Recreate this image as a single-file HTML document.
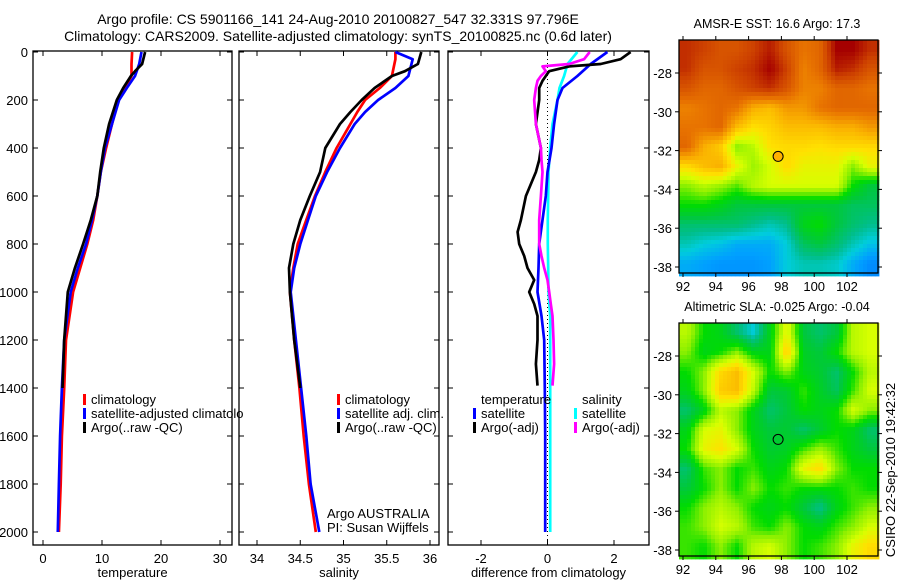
<!DOCTYPE html>
<html><head><meta charset="utf-8"><style>
body{margin:0;background:#fff;}
svg{display:block;font-family:"Liberation Sans",sans-serif;}
</style></head><body>
<svg id="fig" width="900" height="580" viewBox="0 0 900 580" xmlns="http://www.w3.org/2000/svg">
<text x="338" y="24" font-size="14" text-anchor="middle">Argo profile: CS 5901166_141 24-Aug-2010 20100827_547 32.331S 97.796E</text>
<text x="338" y="41" font-size="14" text-anchor="middle">Climatology: CARS2009. Satellite-adjusted climatology: synTS_20100825.nc (0.6d later)</text>
<g id="g"></g>
</svg>
<script>
// ---- data ----
const depthT = [0,50,100,150,200,300,400,500,600,700,800,900,1000,1200,1400,1600,1800,2000];
const tempClim = [15.1,15.0,15.0,13.9,12.7,11.7,10.7,9.8,9.2,8.5,7.5,6.3,5.1,3.9,3.6,3.2,3.0,2.7];
const tempSat  = [16.7,16.3,15.6,14.2,12.9,11.7,10.5,9.8,9.2,8.3,7.3,5.9,4.7,3.6,3.2,2.9,2.7,2.5];
const depthArgo = [0,50,80,100,150,200,300,400,500,600,700,800,900,1000,1200,1400];
const tempArgo = [17.3,16.8,15.6,14.9,13.6,12.5,11.2,10.3,9.7,9.2,8.1,6.8,5.4,4.2,3.6,3.3];
const depthS = [0,30,100,150,200,250,300,400,500,600,700,800,900,1000,1200,1400,1600,1800,2000];
const salClim = [35.6,35.6,35.56,35.42,35.25,35.16,35.08,34.92,34.79,34.67,34.57,34.47,34.42,34.38,34.43,34.49,34.54,34.6,34.68];
const salSat  = [35.6,35.8,35.75,35.6,35.4,35.25,35.13,34.96,34.81,34.68,34.59,34.5,34.43,34.39,34.45,34.51,34.57,34.62,34.72];
const depthSA = [0,50,80,100,150,200,250,300,400,500,600,700,800,900,1000,1200,1400];
const salArgo = [35.9,35.86,35.71,35.56,35.36,35.21,35.08,34.96,34.79,34.73,34.61,34.5,34.42,34.37,34.38,34.43,34.5];
const depthD = [0,50,100,150,200,300,400,500,600,700,800,900,1000,1100,1200,1400,1600,1800,2000];
const dTempSat = [1.8,1.3,0.9,0.45,0.3,0.2,0.12,0,-0.05,-0.15,-0.25,-0.27,-0.3,-0.18,-0.1,-0.08,-0.07,-0.07,-0.07];
const dSalSat  = [0.9,0.6,0.5,0.36,0.3,0.15,0.08,0.03,0.02,0.01,0.01,0.02,0.03,0.08,0.08,0.08,0.08,0.08,0.08];
const depthDA = [0,30,50,60,80,100,120,150,200,300,400,450,500,600,700,750,800,850,900,950,1000,1050,1100,1200,1300,1390];
const dTempArgo = [2.5,2.2,1.6,0.65,0.05,-0.05,-0.15,-0.25,-0.25,-0.35,-0.2,-0.25,-0.35,-0.65,-0.8,-0.9,-0.85,-0.7,-0.6,-0.4,-0.55,-0.4,-0.3,-0.3,-0.35,-0.3];
const dSalArgo  = [1.27,1.1,0.65,-0.15,-0.05,-0.2,-0.3,-0.35,-0.4,-0.35,-0.2,-0.18,-0.15,-0.2,-0.25,-0.25,-0.25,-0.18,-0.1,0,0.05,0.1,0.15,0.18,0.2,0.15];
const depthTicks = [0,200,400,600,800,1000,1200,1400,1600,1800,2000];
const tempTicks = [0,10,20,30];
const salTicks = [34,34.5,35,35.5,36];
const diffTicks = [-2,0,2];
const mapLonTicks = [92,94,96,98,100,102];
const mapLatTicks = [-28,-30,-32,-34,-36,-38];
const sstGrid = [
[.9,.88,.85,.85,.88,.92,.85,.8,.82,.95,.95,.9],
[.9,.85,.85,.88,.9,.95,.88,.78,.82,.92,.9,.85],
[.85,.82,.82,.85,.88,.9,.85,.78,.78,.82,.82,.8],
[.78,.8,.82,.8,.72,.7,.75,.75,.8,.82,.82,.82],
[.8,.8,.82,.7,.65,.67,.7,.7,.7,.72,.72,.75],
[.82,.72,.68,.55,.58,.65,.66,.66,.65,.66,.66,.66],
[.66,.7,.72,.62,.56,.6,.66,.62,.62,.62,.55,.62],
[.55,.58,.56,.53,.58,.6,.6,.6,.6,.6,.5,.45],
[.5,.5,.48,.45,.45,.45,.45,.45,.45,.45,.43,.43],
[.42,.42,.42,.42,.40,.38,.40,.48,.50,.45,.42,.40],
[.38,.36,.35,.33,.33,.33,.36,.43,.45,.42,.38,.35],
[.33,.32,.31,.31,.31,.32,.36,.38,.38,.37,.33,.30]];
const slaGrid = [
[.58,.5,.48,.42,.36,.48,.62,.45,.42,.45,.58,.6],
[.55,.48,.5,.55,.48,.48,.68,.47,.45,.5,.58,.6],
[.5,.55,.66,.7,.6,.5,.55,.48,.46,.42,.5,.58],
[.48,.55,.68,.7,.58,.45,.46,.52,.47,.43,.52,.6],
[.42,.48,.58,.55,.48,.42,.45,.5,.48,.5,.6,.55],
[.48,.6,.62,.55,.48,.45,.46,.42,.46,.5,.48,.42],
[.5,.62,.65,.6,.5,.46,.47,.52,.56,.52,.48,.45],
[.42,.52,.55,.5,.52,.48,.5,.62,.66,.55,.5,.5],
[.45,.5,.55,.5,.55,.5,.52,.5,.5,.5,.52,.5],
[.5,.55,.58,.55,.5,.48,.5,.45,.4,.48,.52,.55],
[.52,.55,.6,.58,.52,.5,.55,.5,.48,.52,.55,.6],
[.52,.5,.55,.5,.58,.6,.55,.5,.52,.55,.62,.66]];
const floatPos = [97.8,-32.3];

// ---- helpers ----
const NS="http://www.w3.org/2000/svg";
const G=document.getElementById('g');
function mk(tag,attrs,parent){const e=document.createElementNS(NS,tag);for(const k in attrs)e.setAttribute(k,attrs[k]);(parent||G).appendChild(e);return e;}
function txt(s,x,y,size,anchor,parent){const t=mk('text',{x:x,y:y,'font-size':size,'text-anchor':anchor||'start'},parent);t.textContent=s;return t;}
const yD = d => 52 + d*0.24;
function lin(d0,d1,p0,p1){return v=>p0+(v-d0)*(p1-p0)/(d1-d0);}
const xT = lin(0,30,43,220);
const xS = lin(34,36,257,430);
const xDf = lin(-2,2,481,614);
const TOP=51,BOT=545;

function panel(name,x0,x1,xs,ticks,fmt,label,yLabels){
  const g=mk('g',{});
  
  
  const r=mk('rect',{x:x0,y:TOP,width:x1-x0,height:BOT-TOP,fill:'none',stroke:'#000','stroke-width':1.3},g);
  
  
  depthTicks.forEach(d=>{
    mk('line',{x1:x0,x2:x0+5,y1:yD(d),y2:yD(d),stroke:'#000'},g);
    mk('line',{x1:x1,x2:x1-5,y1:yD(d),y2:yD(d),stroke:'#000'},g);
    if(yLabels){const t=txt(String(d),28,yD(d)+5,13,'end',g);
      
      }
  });
  ticks.forEach(v=>{
    mk('line',{x1:xs(v),x2:xs(v),y1:BOT,y2:BOT-5,stroke:'#000'},g);
    mk('line',{x1:xs(v),x2:xs(v),y1:TOP,y2:TOP+5,stroke:'#000'},g);
    const t=txt(fmt(v),xs(v),563,13,'middle',g);
    
    
  });
  const t=txt(label,(x0+x1)/2,577,13,'middle',g);
  
  
  return g;
}
function series(name,xs,vals,depths,color,w){
  const pts=vals.map((v,i)=>xs(v).toFixed(1)+','+yD(depths[i]).toFixed(1)).join(' ');
  const p=mk('polyline',{points:pts,fill:'none',stroke:color,'stroke-width':w||2.7,'stroke-linejoin':'round'});
  
  
}
function legend(name,x,y,color,label){
  const g=mk('g',{});
  
  
  mk('rect',{x:x,y:y-10,width:3,height:11,fill:color},g);
  txt(label,x+8,y,13,'start',g);
}

// ---- panel 1 temperature ----
panel('temperature-panel',33,232,xT,tempTicks,v=>String(v),'temperature',true);
series('temperature-climatology-line',xT,tempClim,depthT,'#ff0000');
series('temperature-satellite-line',xT,tempSat,depthT,'#0000ff');
series('temperature-argo-line',xT,tempArgo,depthArgo,'#000000');
legend('legend-climatology',83,404,'#ff0000','climatology');
legend('legend-satellite-adjusted',83,418,'#0000ff','satellite-adjusted climatolo');
legend('legend-argo-raw',83,432,'#000000','Argo(..raw -QC)');
// ---- panel 2 salinity ----
panel('salinity-panel',239,439,xS,salTicks,v=>String(v),'salinity',false);
series('salinity-climatology-line',xS,salClim,depthS,'#ff0000');
series('salinity-satellite-line',xS,salSat,depthS,'#0000ff');
series('salinity-argo-line',xS,salArgo,depthSA,'#000000');
legend('legend-sal-climatology',337,404,'#ff0000','climatology');
legend('legend-sal-satellite',337,418,'#0000ff','satellite adj. clim.');
legend('legend-sal-argo',337,432,'#000000','Argo(..raw -QC)');
{const t=txt('Argo AUSTRALIA',327,518,13,'start');
 const u=txt('PI: Susan Wijffels',327,532,13,'start');}
// ---- panel 3 difference ----
panel('difference-panel',448,649,xDf,diffTicks,v=>String(v),'difference from climatology',false);
{const z=mk('line',{x1:xDf(0),x2:xDf(0),y1:TOP,y2:BOT,stroke:'#000','stroke-dasharray':'1,3'});}
series('diff-salinity-satellite-line',xDf,dSalSat,depthD,'#00ffff');
series('diff-temperature-satellite-line',xDf,dTempSat,depthD,'#0000ff');
series('diff-temperature-argo-line',xDf,dTempArgo,depthDA,'#000000');
series('diff-salinity-argo-line',xDf,dSalArgo,depthDA,'#ff00ff');
{const t=txt('temperature',481,404,13,'start');
 const u=txt('salinity',582,404,13,'start');}
legend('legend-diff-temp-satellite',473,418,'#0000ff','satellite');
legend('legend-diff-temp-argo',473,432,'#000000','Argo(-adj)');
legend('legend-diff-sal-satellite',574,418,'#00ffff','satellite');
legend('legend-diff-sal-argo',574,432,'#ff00ff','Argo(-adj)');

// ---- maps ----
const cmapStops=[[0.28,0,120,255],[0.32,0,160,255],[0.36,0,205,220],[0.40,0,190,140],[0.45,0,200,60],[0.50,0,220,0],[0.55,140,240,0],[0.60,215,255,0],[0.65,255,225,0],[0.72,250,175,0],[0.80,232,115,0],[0.88,205,65,0],[0.95,165,0,0]];
function cmap(v){
  if(v<=cmapStops[0][0])return 'rgb('+cmapStops[0].slice(1).join(',')+')';
  for(let i=1;i<cmapStops.length;i++){const a=cmapStops[i-1],b=cmapStops[i];
    if(v<=b[0]){const t=(v-a[0])/(b[0]-a[0]);return 'rgb('+[1,2,3].map(k=>Math.round(a[k]+(b[k]-a[k])*t)).join(',')+')';}}
  const l=cmapStops[cmapStops.length-1];return 'rgb('+l.slice(1).join(',')+')';
}
function sample(grid,fi,fj){
  const n=grid.length,m=grid[0].length;
  fi=Math.max(0,Math.min(n-1,fi));fj=Math.max(0,Math.min(m-1,fj));
  const i0=Math.floor(fi),j0=Math.floor(fj),i1=Math.min(n-1,i0+1),j1=Math.min(m-1,j0+1),ti=fi-i0,tj=fj-j0;
  return (grid[i0][j0]*(1-tj)+grid[i0][j1]*tj)*(1-ti)+(grid[i1][j0]*(1-tj)+grid[i1][j1]*tj)*ti;
}
function map(name,top,grid,title,circFill){
  const g=mk('g',{});
  
  
  const x0=679,x1=878,h=233;
  const xL=lin(92,102,683,847), yL=lin(-28,-38,top+33,top+227);
  const n=grid.length,m=grid[0].length;
  const step=4;
  for(let py=top;py<top+h;py+=step){
    for(let px=x0;px<x1;px+=step){
      const fj=(px+step/2-x0)/(x1-x0)*m-0.5, fi=(py+step/2-top)/h*n-0.5;
      const c=mk('rect',{x:px,y:py,width:step+0.4,height:step+0.4,fill:cmap(sample(grid,fi,fj))},g);
      
      
    }
  }
  mk('rect',{x:x0,y:top,width:x1-x0,height:h,fill:'none',stroke:'#000','stroke-width':1.3},g);
  mapLonTicks.forEach(v=>{mk('line',{x1:xL(v),x2:xL(v),y1:top+h,y2:top+h+4,stroke:'#000'},g);mk('line',{x1:xL(v),x2:xL(v),y1:top,y2:top-4,stroke:'#000'},g);
    const t=txt(String(v),xL(v),top+h+18,13,'middle',g);});
  mapLatTicks.forEach(v=>{mk('line',{x1:x0,x2:x0-4,y1:yL(v),y2:yL(v),stroke:'#000'},g);mk('line',{x1:x1,x2:x1+4,y1:yL(v),y2:yL(v),stroke:'#000'},g);
    const t=txt(String(v),672,yL(v)+5,13,'end',g);});
  const t=txt(title,777,top-12,12.5,'middle',g);
  const c=mk('circle',{cx:xL(floatPos[0]),cy:yL(floatPos[1]),r:5,fill:circFill,stroke:'#000','stroke-width':1},g);
  
  
}
map('sst-map',40,sstGrid,'AMSR-E SST: 16.6 Argo: 17.3','#ffb000');
map('sla-map',323,slaGrid,'Altimetric SLA: -0.025 Argo: -0.04','none');
{const t=txt('CSIRO 22-Sep-2010 19:42:32',0,0,13,'middle');t.setAttribute('transform','translate(895,470) rotate(-90)');
 }
</script>
</body></html>
